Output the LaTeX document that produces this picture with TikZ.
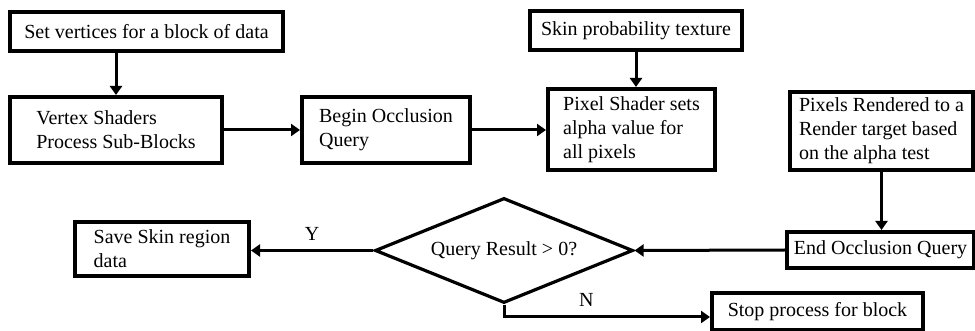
\documentclass[tikz,border=0pt]{standalone}
\usepackage{fontspec}
\setmainfont{Liberation Serif}
\usetikzlibrary{arrows.meta,shapes.geometric}

\tikzset{
  blk/.style={draw, line width=2pt, rectangle, align=left, inner sep=2pt,
    font=\fontsize{10pt}{12pt}\selectfont},
  arr/.style={line width=1.5pt, -{Triangle[length=4.5pt,width=6pt]}},
  lbl/.style={font=\fontsize{10pt}{12pt}\selectfont}
}

\begin{document}
\begin{tikzpicture}[x=0.5pt,y=-0.5pt]
            \useasboundingbox (0,0) rectangle (975,331);
            % top row
            \node[blk, minimum width=136.5pt, minimum height=19.5pt] (setv) at (146.5,31.5) {Set vertices for a block of data};
            \node[blk, minimum width=106pt, minimum height=33pt] (vshade) at (116,130) {Vertex Shaders\\Process Sub-Blocks};
            \node[blk, minimum width=84pt, minimum height=33pt] (beginq) at (386,130) {Begin Occlusion\\Query};
            \node[blk, minimum width=106pt, minimum height=19.5pt] (skintex) at (636,30.5) {Skin probability texture};
            \node[blk, minimum width=83.5pt, minimum height=40.5pt] (pshade) at (631.5,129.5) {Pixel Shader sets\\alpha value for\\all pixels};
            \node[blk, minimum width=91.5pt, minimum height=39pt] (render) at (881.5,131) {Pixels Rendered to a\\Render target based\\on the alpha test};
            % bottom row
            \node[blk, minimum width=93.5pt, minimum height=18pt] (endq) at (880.5,250) {End Occlusion Query};
            \node[blk, shape=diamond, aspect=2.46, inner sep=0pt, line width=1.6pt, minimum width=129pt, minimum height=52.5pt] (result) at (504,250.5) {Query Result > 0?};
            \node[blk, minimum width=87pt, minimum height=27pt] (save) at (162,249) {Save Skin region\\data};
            \node[blk, minimum width=105.5pt, minimum height=18.5pt] (stop) at (817.5,311.5) {Stop process for block};
            \coordinate (nturn) at (504,317);
            % connectors
            \draw[arr] (vshade.north |- setv.south) -- (vshade.north);
            \draw[arr] (vshade.east) -- (vshade.east -| beginq.west);
            \draw[arr] (beginq.east) -- (beginq.east -| pshade.west);
            \draw[arr] (skintex.south) -- (skintex.south |- pshade.north);
            \draw[arr] (render.south) -- (render.south |- endq.north);
            \draw[arr] (endq.west) -- (result.east);
            \draw[arr] (result.west) -- node[lbl, above=1pt] {Y} (result.west -| save.east);
            \draw[arr] (result.south) -- (nturn) -- node[lbl, above=1pt, pos=.4] {N} (nturn -| stop.west);
        \end{tikzpicture}
\end{document}
